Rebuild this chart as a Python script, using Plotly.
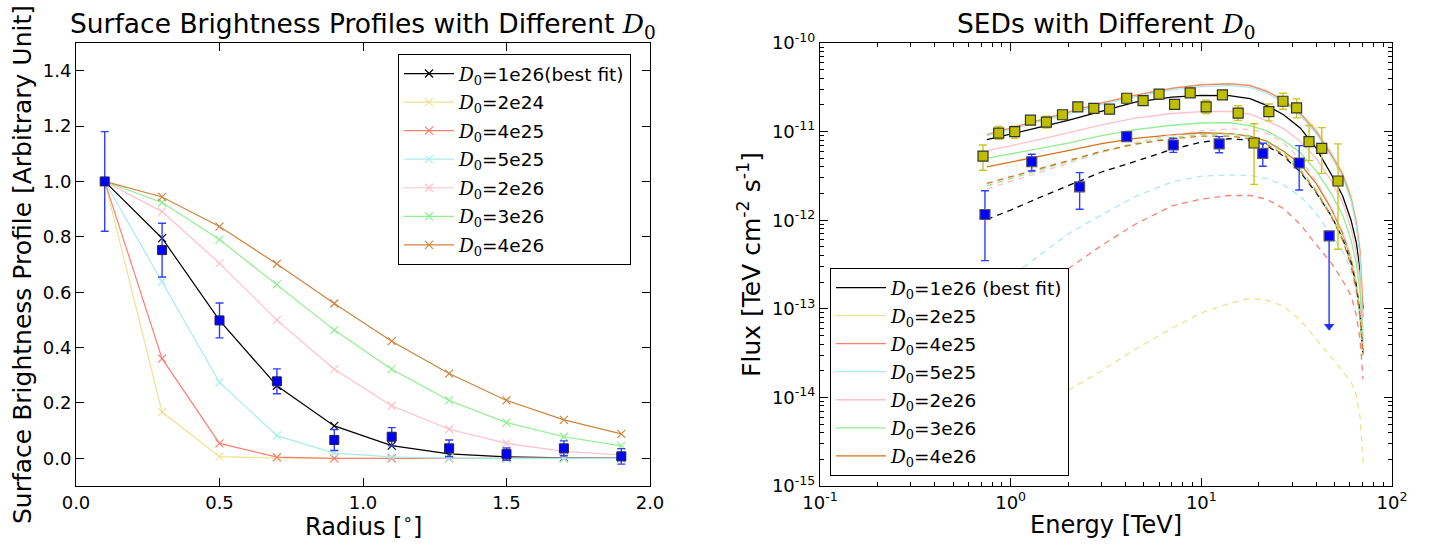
import plotly.graph_objects as go

# ---------------- Surface brightness profiles ----------------
radius = [0.1, 0.3, 0.5, 0.7, 0.9, 1.1, 1.3, 1.5, 1.7, 1.9]

sb_1e26 = [1.0, 0.795, 0.498, 0.262, 0.117, 0.046, 0.016, 0.005, 0.002, 0.001]
sb_2e24 = [1.0, 0.167, 0.006, 0.001, 0.0, 0.0, 0.0, 0.0, 0.0, 0.0]
sb_4e25 = [1.0, 0.360, 0.054, 0.004, 0.0, 0.0, 0.0, 0.0, 0.0, 0.0]
sb_5e25 = [1.0, 0.638, 0.274, 0.082, 0.019, 0.005, 0.001, 0.0, 0.0, 0.0]
sb_2e26 = [1.0, 0.891, 0.704, 0.499, 0.322, 0.190, 0.105, 0.054, 0.025, 0.012]
sb_3e26 = [1.0, 0.924, 0.790, 0.628, 0.463, 0.322, 0.209, 0.129, 0.078, 0.045]
sb_4e26 = [1.0, 0.944, 0.837, 0.702, 0.559, 0.423, 0.306, 0.209, 0.139, 0.088]

sb_obs = [1.0, 0.752, 0.498, 0.278, 0.066, 0.078, 0.036, 0.015, 0.036, 0.007]
sb_obs_err = [0.18, 0.097, 0.063, 0.045, 0.038, 0.033, 0.030, 0.022, 0.027, 0.028]

sb_labels = ["1e26(best fit)", "2e24", "4e25", "5e25", "2e26", "3e26", "4e26"]
sb_curves = [sb_1e26, sb_2e24, sb_4e25, sb_5e25, sb_2e26, sb_3e26, sb_4e26]
sb_colors = ["black", "#f0e190", "#fa8072", "#a8ecec", "#ffc0cb", "#90ee90", "#cd853f"]

# ---------------- SEDs ----------------
model_energy = [0.75, 1.0, 1.5, 2.0, 3.0, 4.5, 7.0, 10, 14, 18, 22, 27, 33, 40, 48, 55, 61, 65, 68, 70.5]

sed_total_1e26 = [8.1e-12, 9.3e-12, 1.15e-11, 1.34e-11, 1.70e-11, 2.15e-11, 2.45e-11, 2.56e-11, 2.55e-11, 2.36e-11,
                  1.98e-11, 1.55e-11, 1.10e-11, 6.5e-12, 3.3e-12, 1.9e-12, 1.0e-12, 5.6e-13, 2.7e-13, 1.0e-13]
sed_total_2e25 = [9.3e-12, 1.10e-11, 1.40e-11, 1.65e-11, 2.12e-11, 2.60e-11, 3.10e-11, 3.40e-11, 3.50e-11, 3.35e-11,
                  2.90e-11, 2.30e-11, 1.65e-11, 1.05e-11, 5.8e-12, 3.5e-12, 1.9e-12, 1.0e-12, 4.8e-13, 1.3e-13]
sed_total_4e25 = [9.2e-12, 1.09e-11, 1.39e-11, 1.63e-11, 2.10e-11, 2.57e-11, 3.07e-11, 3.37e-11, 3.45e-11, 3.30e-11,
                  2.85e-11, 2.25e-11, 1.60e-11, 1.00e-11, 5.5e-12, 3.3e-12, 1.75e-12, 9.2e-13, 4.3e-13, 8.0e-14]
sed_total_5e25 = [9.0e-12, 1.06e-11, 1.35e-11, 1.58e-11, 2.03e-11, 2.48e-11, 2.95e-11, 3.22e-11, 3.30e-11, 3.15e-11,
                  2.72e-11, 2.15e-11, 1.52e-11, 9.5e-12, 5.2e-12, 3.1e-12, 1.65e-12, 8.5e-13, 3.8e-13, 4.5e-14]
sed_total_2e26 = [6.1e-12, 6.9e-12, 8.4e-12, 9.7e-12, 1.19e-11, 1.42e-11, 1.60e-11, 1.68e-11, 1.69e-11, 1.57e-11,
                  1.33e-11, 1.08e-11, 7.8e-12, 5.0e-12, 2.8e-12, 1.6e-12, 8.0e-13, 4.3e-13, 2.0e-13, 5.0e-14]
sed_total_3e26 = [5.0e-12, 5.6e-12, 6.6e-12, 7.4e-12, 9.0e-12, 1.05e-11, 1.18e-11, 1.25e-11, 1.26e-11, 1.17e-11,
                  1.02e-11, 8.0e-12, 5.8e-12, 3.6e-12, 2.0e-12, 1.15e-12, 6.0e-13, 3.2e-13, 1.55e-13, 4.0e-14]
sed_total_4e26 = [4.0e-12, 4.5e-12, 5.4e-12, 6.1e-12, 7.3e-12, 8.4e-12, 9.2e-12, 9.7e-12, 9.5e-12, 8.9e-12,
                  7.8e-12, 6.0e-12, 4.3e-12, 2.6e-12, 1.35e-12, 7.2e-13, 3.7e-13, 1.9e-13, 9.0e-14, 3.0e-14]

sed_inner_1e26 = [1.02e-12, 1.3e-12, 1.9e-12, 2.45e-12, 3.5e-12, 4.6e-12, 6.3e-12, 7.6e-12, 8.3e-12, 8.0e-12,
                  6.95e-12, 5.3e-12, 3.5e-12, 2.05e-12, 1.12e-12, 6.3e-13, 3.3e-13, 1.8e-13, 8.5e-14, 3.0e-14]
sed_inner_2e25 = [2.8e-15, 4.3e-15, 7.7e-15, 1.2e-14, 2.0e-14, 3.5e-14, 6.0e-14, 9.0e-14, 1.15e-13, 1.31e-13,
                  1.25e-13, 1.07e-13, 7.5e-14, 4.6e-14, 2.9e-14, 2.0e-14, 1.5e-14, 1.05e-14, 6.0e-15, 1.8e-15]
sed_inner_4e25 = [6.5e-14, 1.0e-13, 1.85e-13, 2.8e-13, 5.2e-13, 9.0e-13, 1.45e-12, 1.73e-12, 1.90e-12, 1.90e-12,
                  1.73e-12, 1.35e-12, 9.0e-13, 5.3e-13, 3.3e-13, 2.1e-13, 1.4e-13, 8.5e-14, 4.5e-14, 1.6e-14]
sed_inner_5e25 = [1.5e-13, 2.3e-13, 4.4e-13, 7.0e-13, 1.15e-12, 1.85e-12, 2.7e-12, 3.15e-12, 3.25e-12, 3.2e-12,
                  2.95e-12, 2.5e-12, 1.88e-12, 1.2e-12, 6.8e-13, 4.5e-13, 2.7e-13, 1.5e-13, 8.0e-14, 3.0e-14]
sed_inner_2e26 = [2.25e-12, 2.75e-12, 3.6e-12, 4.4e-12, 5.8e-12, 7.5e-12, 9.2e-12, 1.02e-11, 1.07e-11, 1.06e-11,
                  9.6e-12, 7.5e-12, 4.9e-12, 2.8e-12, 1.4e-12, 7.5e-13, 3.8e-13, 2.0e-13, 9.0e-14, 3.5e-14]
sed_inner_3e26 = [2.45e-12, 2.95e-12, 3.85e-12, 4.6e-12, 5.9e-12, 7.3e-12, 8.6e-12, 9.3e-12, 9.4e-12, 8.8e-12,
                  7.6e-12, 5.8e-12, 3.8e-12, 2.2e-12, 1.15e-12, 6.2e-13, 3.2e-13, 1.7e-13, 8.0e-14, 3.0e-14]
sed_inner_4e26 = [2.6e-12, 3.1e-12, 4.0e-12, 4.7e-12, 6.0e-12, 7.2e-12, 8.3e-12, 8.9e-12, 8.9e-12, 8.3e-12,
                  7.2e-12, 5.5e-12, 3.6e-12, 2.1e-12, 1.1e-12, 6.0e-13, 3.1e-13, 1.65e-13, 8.0e-14, 3.0e-14]

sed_labels = ["1e26 (best fit)", "2e25", "4e25", "5e25", "2e26", "3e26", "4e26"]
sed_total = [sed_total_1e26, sed_total_2e25, sed_total_4e25, sed_total_5e25,
             sed_total_2e26, sed_total_3e26, sed_total_4e26]
sed_inner = [sed_inner_1e26, sed_inner_2e25, sed_inner_4e25, sed_inner_5e25,
             sed_inner_2e26, sed_inner_3e26, sed_inner_4e26]
sed_colors = ["black", "#f0e190", "#fa8072", "#a8ecec", "#ffc0cb", "#90ee90", "#d2731e"]

# large-region flux points
wide_energy = [0.716, 0.865, 1.05, 1.27, 1.54, 1.87, 2.25, 2.73, 3.30, 4.06, 4.95, 6.0,
               7.24, 8.74, 10.6, 12.9, 15.6, 18.9, 22.6, 26.8, 31.6, 36.7, 42.8, 52.1]
wide_flux = [5.3e-12, 9.6e-12, 1.00e-11, 1.35e-11, 1.28e-11, 1.55e-11, 1.90e-11, 1.83e-11,
             1.79e-11, 2.38e-11, 2.24e-11, 2.65e-11, 2.03e-11, 2.74e-11, 1.90e-11, 2.60e-11,
             1.62e-11, 7.44e-12, 1.68e-11, 2.20e-11, 1.85e-11, 7.7e-12, 6.48e-12, 2.77e-12]
wide_err_up = [1.76e-12, 1.8e-12, 1.5e-12, 8e-13, 2.1e-12, 8e-13, 9e-13, 9e-13,
               8e-13, 1.0e-12, 1.0e-12, 1.0e-12, 1.0e-12, 1.0e-12, 3.6e-12, 2.0e-12,
               3.4e-12, 4.8e-12, 3.7e-12, 5.1e-12, 4.9e-12, 4.0e-12, 4.6e-12, 4.5e-12]
wide_err_lo = [1.64e-12, 1.4e-12, 1.6e-12, 8e-13, 1.8e-12, 8e-13, 9e-13, 9e-13,
               8e-13, 1.0e-12, 1.0e-12, 1.0e-12, 1.0e-12, 1.0e-12, 3.0e-12, 2.0e-12,
               2.8e-12, 4.9e-12, 3.6e-12, 4.1e-12, 4.2e-12, 3.0e-12, 3.1e-12, 2.3e-12]

# inner-region flux points
inner_energy = [0.733, 1.29, 2.30, 4.06, 7.13, 12.4, 21.0, 32.6]
inner_flux = [1.16e-12, 4.57e-12, 2.38e-12, 8.78e-12, 7.06e-12, 7.25e-12, 5.69e-12, 4.42e-12]
inner_err_up = [9.9e-13, 9.8e-13, 1.06e-12, 3.0e-13, 1.35e-12, 1.52e-12, 1.69e-12, 2.53e-12]
inner_err_lo = [8.1e-13, 9.8e-13, 1.05e-12, 3.0e-13, 1.23e-12, 1.47e-12, 1.63e-12, 2.23e-12]

# upper limit
ul_energy = [46.8]
ul_flux = [6.65e-13]

# ---------------- styling ----------------
FONT = "DejaVu Sans"
W, H = 1435, 548
AX_LEFT = [76 / W, 650 / W]
AX_RIGHT = [820 / W, 1392 / W]
AX_Y = [1 - 486 / H, 1 - 43 / H]
UL_ARROW_DECADES = 1.02
D0 = "<span style=\"font-family:'DejaVu Serif'\"><i>D</i><sub>0</sub></span>"

fig = go.Figure()

# left panel curves
for lab, ys, col in zip(sb_labels, sb_curves, sb_colors):
    fig.add_trace(go.Scatter(
        x=radius, y=ys, mode="lines+markers",
        name=D0 + "=" + lab,
        line=dict(color=col, width=1.2),
        marker=dict(symbol="x-thin-open", size=8, line=dict(color=col, width=1.2)),
        legend="legend", legendgroup="l" + lab,
        xaxis="x", yaxis="y",
    ))

fig.add_trace(go.Scatter(
    x=radius, y=sb_obs, mode="markers", showlegend=False, legend="legend",
    marker=dict(symbol="square", size=9, color="#0000ff", line=dict(color="#222244", width=1)),
    error_y=dict(type="data", array=sb_obs_err, color="#3040ff", thickness=1.4, width=4),
    xaxis="x", yaxis="y",
))

# right panel model curves: full region (solid) and inner region (dashed)
for lab, ys, col in zip(sed_labels, sed_total, sed_colors):
    fig.add_trace(go.Scatter(
        x=model_energy, y=ys, mode="lines",
        name=D0 + "=" + lab,
        line=dict(color=col, width=1.3),
        legend="legend2", legendgroup="r" + lab,
        xaxis="x2", yaxis="y2",
    ))
for lab, ys, col in zip(sed_labels, sed_inner, sed_colors):
    fig.add_trace(go.Scatter(
        x=model_energy, y=ys, mode="lines", showlegend=False,
        legend="legend2", legendgroup="r" + lab,
        line=dict(color=col, width=1.3, dash="6px,5px"),
        xaxis="x2", yaxis="y2",
    ))

fig.add_trace(go.Scatter(
    x=wide_energy, y=wide_flux, mode="markers", showlegend=False, legend="legend2",
    marker=dict(symbol="square", size=10, color="#bfbf00", line=dict(color="#333333", width=1.2)),
    error_y=dict(type="data", symmetric=False, array=wide_err_up, arrayminus=wide_err_lo,
                 color="#c8c820", thickness=1.4, width=4),
    xaxis="x2", yaxis="y2",
))
fig.add_trace(go.Scatter(
    x=inner_energy, y=inner_flux, mode="markers", showlegend=False, legend="legend2",
    marker=dict(symbol="square", size=10, color="#0000ff", line=dict(color="#555566", width=1.2)),
    error_y=dict(type="data", symmetric=False, array=inner_err_up, arrayminus=inner_err_lo,
                 color="#3040ff", thickness=1.4, width=4),
    xaxis="x2", yaxis="y2",
))
# upper limit: stem, arrow head and the point itself
ul_tip = [f / 10 ** UL_ARROW_DECADES for f in ul_flux]
fig.add_trace(go.Scatter(
    x=ul_energy * 2, y=ul_flux + ul_tip, mode="lines", showlegend=False, legend="legend2",
    line=dict(color="#4050ff", width=1.6), xaxis="x2", yaxis="y2",
))
fig.add_trace(go.Scatter(
    x=ul_energy, y=ul_tip, mode="markers", showlegend=False, legend="legend2",
    marker=dict(symbol="triangle-down", size=9, color="#2030ff"), xaxis="x2", yaxis="y2",
))
fig.add_trace(go.Scatter(
    x=ul_energy, y=ul_flux, mode="markers", showlegend=False, legend="legend2",
    marker=dict(symbol="square", size=10, color="#0000ff", line=dict(color="#555566", width=1.2)),
    xaxis="x2", yaxis="y2",
))

tick_font = dict(family=FONT, size=18, color="black")
axis_title_font = dict(family=FONT, size=24, color="black")
title_font = dict(family=FONT, size=26.5, color="black")
legend_font = dict(family=FONT, size=18.5, color="black")

axis_common = dict(showline=True, linecolor="black", linewidth=1, mirror="allticks",
                   ticks="inside", ticklen=8, tickcolor="black", showgrid=False,
                   zeroline=False, tickfont=tick_font, automargin=False)

minor_x = [m * 10 ** e for e in range(-1, 2) for m in range(2, 10)]
minor_y = [m * 10 ** e for e in range(-15, -10) for m in range(2, 10)]

XTITLE_Y = 1 - 525 / H

fig.update_layout(
    width=W, height=H,
    margin=dict(l=0, r=0, t=0, b=0, autoexpand=False),
    paper_bgcolor="white", plot_bgcolor="white",
    font=dict(family=FONT, color="black"),
    xaxis=dict(domain=AX_LEFT, range=[0, 2], tickvals=[0, 0.5, 1.0, 1.5, 2.0],
               ticktext=["0.0", "0.5", "1.0", "1.5", "2.0"],
               anchor="y", **axis_common),
    yaxis=dict(domain=AX_Y, range=[-0.1, 1.5], tickvals=[0, 0.2, 0.4, 0.6, 0.8, 1.0, 1.2, 1.4],
               ticktext=["0.0", "0.2", "0.4", "0.6", "0.8", "1.0", "1.2", "1.4"],
               title=dict(text="Surface Brightness Profile [Arbitrary Unit]", font=dict(family=FONT, size=25, color="black"), standoff=4),
               anchor="x", **axis_common),
    xaxis2=dict(domain=AX_RIGHT, type="log", range=[-1, 2],
                tickvals=[0.1, 1, 10, 100],
                ticktext=["10<sup>-1</sup>", "10<sup>0</sup>", "10<sup>1</sup>", "10<sup>2</sup>"],
                minor=dict(tickvals=minor_x, ticks="inside", ticklen=4, tickcolor="black"),
                anchor="y2", **axis_common),
    yaxis2=dict(domain=AX_Y, type="log", range=[-15, -10],
                tickvals=[1e-15, 1e-14, 1e-13, 1e-12, 1e-11, 1e-10],
                ticktext=[f"10<sup>{e}</sup>" for e in range(-15, -9)],
                minor=dict(tickvals=minor_y, ticks="inside", ticklen=4, tickcolor="black"),
                title=dict(text="Flux [TeV cm<sup>-2</sup> s<sup>-1</sup>]", font=dict(family=FONT, size=25, color="black"), standoff=4),
                anchor="x2", **axis_common),
    legend=dict(x=398 / W, y=1 - 54 / H, xanchor="left", yanchor="top",
                bgcolor="white", bordercolor="black", borderwidth=1,
                font=legend_font, itemwidth=50, tracegroupgap=1.5),
    legend2=dict(x=830 / W, y=1 - 476 / H, xanchor="left", yanchor="bottom",
                 bgcolor="white", bordercolor="black", borderwidth=1,
                 font=legend_font, itemwidth=50, tracegroupgap=1),
    annotations=[
        dict(text="Surface Brightness Profiles with Different " + D0,
             x=sum(AX_LEFT) / 2, y=1 - 25 / H, xref="paper", yref="paper",
             xanchor="center", yanchor="middle", showarrow=False, font=title_font),
        dict(text="SEDs with Different " + D0,
             x=sum(AX_RIGHT) / 2, y=1 - 25 / H, xref="paper", yref="paper",
             xanchor="center", yanchor="middle", showarrow=False, font=title_font),
        dict(text="Radius [<sup>∘</sup>]",
             x=sum(AX_LEFT) / 2, y=XTITLE_Y, xref="paper", yref="paper",
             xanchor="center", yanchor="middle", showarrow=False, font=axis_title_font),
        dict(text="Energy [TeV]",
             x=sum(AX_RIGHT) / 2, y=XTITLE_Y, xref="paper", yref="paper",
             xanchor="center", yanchor="middle", showarrow=False, font=axis_title_font),
    ],
)

fig.write_html("out.html")
